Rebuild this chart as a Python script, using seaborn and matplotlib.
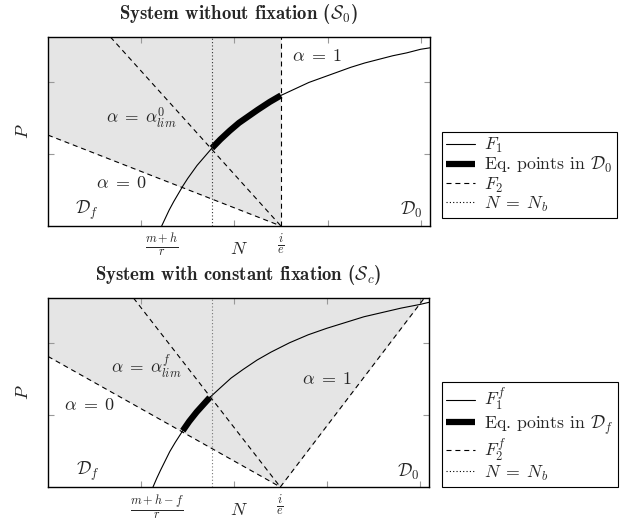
import numpy as np
import pandas as pd
import seaborn as sns
import matplotlib
matplotlib.use("Agg")
import matplotlib.pyplot as plt
from matplotlib.lines import Line2D

# ---------------- data ----------------
XMAX = 4.1
YMAX = 2.62
grid_ticks = [1, 2, 3, 4]
grid_yticks = [1, 2]

# top panel: system without fixation
top_F1_N = [1.22, 1.26, 1.30, 1.35, 1.40, 1.45, 1.50, 1.55, 1.60, 1.68, 1.76, 1.85,
            1.95, 2.05, 2.15, 2.25, 2.38, 2.50, 2.65, 2.80, 2.95, 3.10, 3.25, 3.40,
            3.55, 3.70, 3.85, 4.00, 4.10]
top_F1_P = [0.00, 0.11, 0.22, 0.34, 0.45, 0.56, 0.66, 0.75, 0.84, 0.96, 1.08, 1.20,
            1.32, 1.43, 1.52, 1.61, 1.72, 1.81, 1.90, 1.99, 2.06, 2.13, 2.20, 2.26,
            2.31, 2.36, 2.40, 2.45, 2.47]
top_eq_N = [1.76, 1.85, 1.95, 2.05, 2.15, 2.25, 2.38, 2.50]
top_eq_P = [1.08, 1.20, 1.32, 1.43, 1.52, 1.61, 1.72, 1.81]
top_a0_N = [0.0, 2.5]
top_a0_P = [1.26, 0.0]
top_alim_N = [0.67, 2.5]
top_alim_P = [2.62, 0.0]
top_a1_N = [2.5, 2.5]
top_a1_P = [0.0, 2.62]
top_Nb = 1.76
top_xtick_pos = [1.22, 2.5]
top_xtick_lab = [r"$\frac{m+h}{r}$", r"$\frac{i}{e}$"]

# bottom panel: system with constant fixation
bot_F1_N = [1.13, 1.17, 1.21, 1.26, 1.31, 1.37, 1.45, 1.52, 1.60, 1.67, 1.74, 1.85,
            1.97, 2.10, 2.25, 2.40, 2.60, 2.80, 3.00, 3.20, 3.40, 3.60, 3.80, 4.00, 4.10]
bot_F1_P = [0.00, 0.12, 0.23, 0.36, 0.49, 0.62, 0.78, 0.91, 1.04, 1.14, 1.24, 1.37,
            1.51, 1.63, 1.76, 1.87, 2.00, 2.11, 2.20, 2.28, 2.36, 2.42, 2.48, 2.53, 2.56]
bot_eq_N = [1.45, 1.52, 1.60, 1.67, 1.74]
bot_eq_P = [0.78, 0.91, 1.04, 1.14, 1.24]
bot_a0_N = [0.0, 2.5]
bot_a0_P = [1.81, 0.0]
bot_alim_N = [0.92, 2.5]
bot_alim_P = [2.62, 0.0]
bot_a1_N = [2.5, 4.05]
bot_a1_P = [0.0, 2.62]
bot_Nb = 1.76
bot_xtick_pos = [1.17, 2.5]
bot_xtick_lab = [r"$\frac{m+h-f}{r}$", r"$\frac{i}{e}$"]

# ---------------- style ----------------
sns.set_theme(style="white")
plt.rcParams["font.family"] = ["cmr10", "DejaVu Serif"]
plt.rcParams["mathtext.fontset"] = "cm"
plt.rcParams["axes.unicode_minus"] = False
plt.rcParams["axes.formatter.use_mathtext"] = True

FILL = "#e5e5e5"
LW = 0.8
DASH = (4.5, 3.5)
DOT = (1.0, 2.0)
LBL = 13

fig = plt.figure(figsize=(6.3, 5.19), dpi=100)
ax_top = fig.add_axes([48 / 630, 1 - 226 / 519, 382 / 630, 189 / 519])
ax_bot = fig.add_axes([48 / 630, 1 - 487 / 519, 381 / 630, 189 / 519])


def setup_axes(ax, tick_pos, tick_lab):
    ax.set_xlim(0, XMAX)
    ax.set_ylim(0, YMAX)
    ax.set_xticks(grid_ticks)
    ax.set_yticks(grid_yticks)
    ax.set_xticklabels([])
    ax.set_yticklabels([])
    ax.set_xticks(tick_pos, minor=True)
    ax.set_xticklabels(tick_lab, minor=True, fontsize=12.5)
    ax.tick_params(axis="both", which="major", direction="in", length=4,
                   width=0.8, color="#999999", top=True, right=True,
                   bottom=True, left=True)
    ax.tick_params(axis="x", which="minor", length=0, pad=4)
    for s in ax.spines.values():
        s.set_color("black")
        s.set_linewidth(1.0)
    ax.set_xlabel(r"$N$", fontsize=13)
    ax.set_ylabel(r"$P$", fontsize=13)
    ax.xaxis.set_label_coords(0.5, -0.08)
    ax.yaxis.set_label_coords(-0.045, 0.5)


def draw_lines(ax, F1_N, F1_P, eq_N, eq_P, Nb, nb_color):
    sns.lineplot(x=F1_N, y=F1_P, ax=ax, color="black", lw=LW, sort=False,
                 estimator=None)
    sns.lineplot(x=eq_N, y=eq_P, ax=ax, color="black", lw=4.5, sort=False,
                 estimator=None, solid_capstyle="butt")
    ax.axvline(Nb, color=nb_color, lw=LW, dashes=DOT)


# ---- top panel ----
ax = ax_top
ax.fill_between(top_a0_N, top_a0_P, YMAX, color=FILL, lw=0, zorder=0)
for xs, ys in [(top_a0_N, top_a0_P), (top_alim_N, top_alim_P), (top_a1_N, top_a1_P)]:
    ax.plot(xs, ys, color="black", lw=LW, dashes=DASH)
draw_lines(ax, top_F1_N, top_F1_P, top_eq_N, top_eq_P, top_Nb, "#333333")
setup_axes(ax, top_xtick_pos, top_xtick_lab)
ax.text(2.62, 2.35, r"$\alpha\;=\;1$", fontsize=LBL, va="center", ha="left")
ax.text(1.0, 1.5, r"$\alpha\;=\;\alpha^0_{lim}$", fontsize=12.5, va="center", ha="center")
ax.text(0.79, 0.6, r"$\alpha\;=\;0$", fontsize=LBL, va="center", ha="center")
ax.text(0.42, 0.22, r"$\mathcal{D}_f$", fontsize=LBL, va="center", ha="center")
ax.text(3.9, 0.22, r"$\mathcal{D}_0$", fontsize=LBL, va="center", ha="center")

# ---- bottom panel ----
ax = ax_bot
fill_N = bot_a0_N + bot_a1_N[1:]
fill_P = bot_a0_P + bot_a1_P[1:]
ax.fill_between(fill_N, fill_P, YMAX, color=FILL, lw=0, zorder=0)
for xs, ys in [(bot_a0_N, bot_a0_P), (bot_alim_N, bot_alim_P), (bot_a1_N, bot_a1_P)]:
    ax.plot(xs, ys, color="black", lw=LW, dashes=DASH)
draw_lines(ax, bot_F1_N, bot_F1_P, bot_eq_N, bot_eq_P, bot_Nb, "#777777")
setup_axes(ax, bot_xtick_pos, bot_xtick_lab)
ax.text(1.06, 1.67, r"$\alpha\;=\;\alpha^f_{lim}$", fontsize=12.5, va="center", ha="center")
ax.text(0.45, 1.14, r"$\alpha\;=\;0$", fontsize=LBL, va="center", ha="center")
ax.text(3.0, 1.5, r"$\alpha\;=\;1$", fontsize=LBL, va="center", ha="center")
ax.text(0.43, 0.21, r"$\mathcal{D}_f$", fontsize=LBL, va="center", ha="center")
ax.text(3.88, 0.21, r"$\mathcal{D}_0$", fontsize=LBL, va="center", ha="center")

# ---- titles ----
fig.text(238 / 630, 1 - 14 / 519, r"System without fixation ($\mathcal{S}_0$)",
         fontsize=13.5, fontfamily="cmb10", ha="center", va="center")
fig.text(238 / 630, 1 - 275 / 519, r"System with constant fixation ($\mathcal{S}_c$)",
         fontsize=13.5, fontfamily="cmb10", ha="center", va="center")


# ---- legends ----
def make_legend(anchor, labels):
    handles = [
        Line2D([], [], color="black", lw=LW),
        Line2D([], [], color="black", lw=4.5, solid_capstyle="butt"),
        Line2D([], [], color="black", lw=LW, dashes=DASH),
        Line2D([], [], color="black", lw=LW, dashes=DOT),
    ]
    leg = fig.legend(handles, labels, loc="upper left", bbox_to_anchor=anchor,
                     bbox_transform=fig.transFigure, frameon=True, fancybox=False,
                     edgecolor="black", framealpha=1, fontsize=12.8,
                     handlelength=1.6, handletextpad=0.5, labelspacing=0.0,
                     borderpad=0.25, borderaxespad=0)
    leg.get_frame().set_linewidth(0.8)
    return leg


make_legend((442 / 630, 1 - 132 / 519),
            [r"$F_1$", r"Eq. points in $\mathcal{D}_0$", r"$F_2$", r"$N\;=\;N_b$"])
make_legend((442 / 630, 1 - 382 / 519),
            [r"$F_1^f$", r"Eq. points in $\mathcal{D}_f$", r"$F_2^f$", r"$N\;=\;N_b$"])

fig.savefig("out.png", dpi=100)
